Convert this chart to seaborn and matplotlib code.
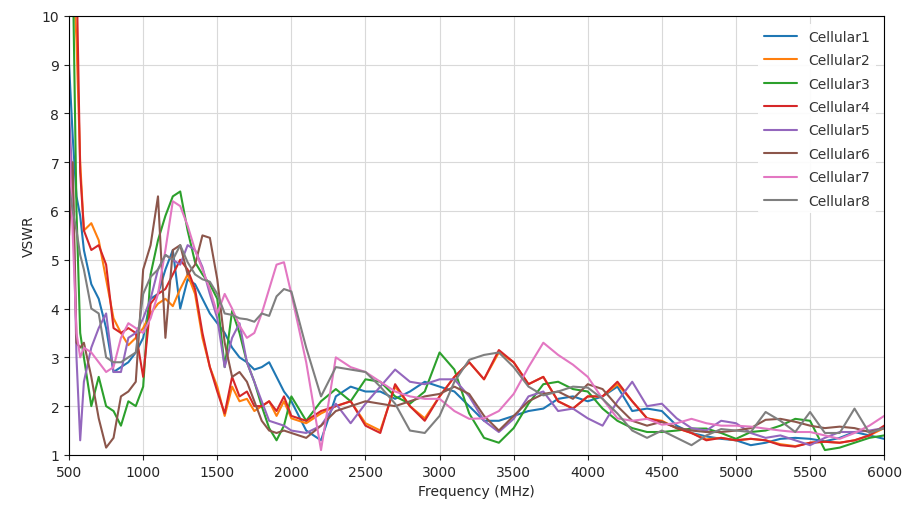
import numpy as np
import pandas as pd
import matplotlib
matplotlib.use("Agg")
import matplotlib.pyplot as plt
import seaborn as sns

freq = [500, 525, 550, 575, 600,
        650, 700, 750, 800, 850, 900, 950, 1000, 1050, 1100, 1150, 1200, 1250, 1300,
        1350, 1400, 1450, 1500, 1550, 1600, 1650, 1700, 1750, 1800, 1850, 1900, 1950, 2000,
        2100, 2200, 2300, 2400, 2500, 2600, 2700, 2800, 2900, 3000,
        3100, 3200, 3300, 3400, 3500, 3600, 3700, 3800, 3900, 4000,
        4100, 4200, 4300, 4400, 4500, 4600, 4700, 4800, 4900, 5000,
        5100, 5200, 5300, 5400, 5500, 5600, 5700, 5800, 5900, 6000]

cellular1 = [9.0, 7.5, 6.3, 5.9, 5.2,
             4.5, 4.2, 3.6, 2.7, 2.8, 2.9, 3.1, 3.4, 4.2, 4.3, 4.8, 5.2, 4.0, 4.6,
             4.5, 4.2, 3.9, 3.7, 3.5, 3.2, 3.0, 2.9, 2.75, 2.8, 2.9, 2.6, 2.3, 2.1,
             1.5, 1.3, 2.2, 2.4, 2.3, 2.3, 2.15, 2.3, 2.5, 2.4,
             2.3, 2.0, 1.7, 1.7, 1.8, 1.9, 1.95, 2.15, 2.2, 2.1,
             2.2, 2.4, 1.9, 1.95, 1.9, 1.6, 1.45, 1.38, 1.33, 1.3,
             1.2, 1.25, 1.33, 1.35, 1.33, 1.28, 1.35, 1.47, 1.4, 1.33]

cellular2 = [12.0, 11.0, 9.5, 7.0, 5.6,
             5.75, 5.4, 4.6, 3.8, 3.5, 3.25, 3.4, 3.6, 3.9, 4.1, 4.2, 4.05, 4.4, 4.7,
             4.3, 3.4, 2.8, 2.4, 1.8, 2.4, 2.1, 2.15, 1.9, 2.0, 2.1, 1.8, 2.1, 1.75,
             1.65, 1.85, 2.0, 2.1, 1.65, 1.5, 2.4, 2.0, 1.75, 2.2,
             2.6, 2.9, 2.55, 3.1, 2.9, 2.45, 2.6, 2.1, 1.95, 2.2,
             2.2, 2.45, 2.1, 1.75, 1.7, 1.55, 1.45, 1.32, 1.35, 1.3,
             1.33, 1.3, 1.22, 1.18, 1.25, 1.27, 1.25, 1.3, 1.4, 1.55]

cellular3 = [12.0, 11.0, 6.0, 3.5, 3.0,
             2.0, 2.6, 2.0, 1.9, 1.6, 2.1, 2.0, 2.4, 4.7, 5.4, 5.9, 6.3, 6.4, 5.6,
             4.95, 4.7, 4.5, 4.2, 2.8, 3.95, 3.5, 2.9, 2.5, 2.0, 1.55, 1.3, 1.6, 2.2,
             1.7, 2.1, 2.35, 2.1, 2.55, 2.5, 2.2, 2.05, 2.3, 3.1,
             2.75, 1.85, 1.35, 1.25, 1.55, 2.05, 2.45, 2.5, 2.35, 2.3,
             1.95, 1.7, 1.55, 1.47, 1.47, 1.5, 1.54, 1.54, 1.45, 1.33,
             1.47, 1.5, 1.6, 1.74, 1.7, 1.1, 1.15, 1.25, 1.35, 1.4]

cellular4 = [12.0, 12.0, 11.0, 6.8, 5.6,
             5.2, 5.3, 4.9, 3.6, 3.5, 3.6, 3.5, 2.6, 4.1, 4.3, 4.4, 4.7, 5.0, 4.8,
             4.4, 3.5, 2.8, 2.3, 1.85, 2.6, 2.2, 2.3, 2.0, 2.0, 2.1, 1.9, 2.2, 1.8,
             1.7, 1.9, 2.0, 2.1, 1.6, 1.45, 2.45, 2.0, 1.7, 2.2,
             2.6, 2.9, 2.55, 3.15, 2.9, 2.45, 2.6, 2.1, 1.95, 2.2,
             2.2, 2.5, 2.1, 1.75, 1.68, 1.55, 1.45, 1.3, 1.35, 1.3,
             1.33, 1.3, 1.2, 1.17, 1.25, 1.27, 1.25, 1.3, 1.4, 1.6]

cellular5 = [8.0, 6.5, 3.0, 1.3, 2.5,
             3.2, 3.6, 3.9, 2.7, 2.7, 3.4, 3.5, 3.8, 4.2, 4.8, 5.1, 5.0, 4.9, 5.3,
             5.2, 4.85, 4.3, 3.8, 2.8, 3.4, 3.7, 2.9, 2.5, 2.1, 1.7, 1.65, 1.6, 1.5,
             1.45, 1.6, 2.05, 1.65, 2.05, 2.4, 2.75, 2.5, 2.45, 2.55,
             2.55, 2.2, 1.7, 1.47, 1.74, 2.2, 2.3, 1.9, 1.95, 1.75,
             1.6, 2.1, 2.5, 2.0, 2.05, 1.75, 1.55, 1.5, 1.7, 1.65,
             1.45, 1.35, 1.4, 1.3, 1.2, 1.35, 1.47, 1.47, 1.5, 1.55]

cellular6 = [5.5, 7.0, 3.3, 3.2, 3.3,
             2.6, 1.75, 1.15, 1.35, 2.2, 2.3, 2.5, 4.8, 5.3, 6.3, 3.4, 5.2, 5.3, 4.7,
             4.9, 5.5, 5.45, 4.6, 3.3, 2.6, 2.7, 2.5, 2.1, 1.7, 1.5, 1.45, 1.5, 1.45,
             1.35, 1.6, 1.9, 2.0, 2.1, 2.05, 2.0, 2.1, 2.2, 2.25,
             2.4, 2.25, 1.8, 1.5, 1.8, 2.1, 2.25, 2.3, 2.15, 2.45,
             2.35, 2.0, 1.7, 1.6, 1.68, 1.56, 1.5, 1.47, 1.47, 1.5,
             1.55, 1.72, 1.74, 1.68, 1.6, 1.55, 1.58, 1.55, 1.47, 1.55]

cellular7 = [7.5, 5.5, 3.5, 3.0, 3.2,
             3.1, 2.9, 2.7, 2.8, 3.4, 3.7, 3.6, 3.5, 3.8, 4.3, 5.2, 6.2, 6.1, 5.7,
             5.2, 4.8, 4.4, 3.9, 4.3, 4.0, 3.65, 3.4, 3.5, 3.9, 4.4, 4.9, 4.95, 4.3,
             2.9, 1.1, 3.0, 2.8, 2.7, 2.5, 2.3, 2.2, 2.15, 2.15,
             1.9, 1.74, 1.75, 1.9, 2.25, 2.8, 3.3, 3.05, 2.85, 2.6,
             2.15, 1.75, 1.7, 1.74, 1.62, 1.65, 1.74, 1.65, 1.6, 1.6,
             1.58, 1.54, 1.5, 1.47, 1.47, 1.4, 1.33, 1.45, 1.6, 1.8]

cellular8 = [6.5, 6.0, 5.6, 5.1, 4.8,
             4.0, 3.9, 3.0, 2.9, 2.9, 3.0, 3.1, 4.3, 4.65, 4.8, 5.1, 5.0, 5.3, 4.95,
             4.7, 4.6, 4.55, 4.3, 3.9, 3.87, 3.8, 3.78, 3.73, 3.9, 3.85, 4.25, 4.4, 4.35,
             3.2, 2.2, 2.8, 2.75, 2.7, 2.4, 2.05, 1.5, 1.45, 1.8,
             2.5, 2.95, 3.05, 3.1, 2.8, 2.4, 2.22, 2.3, 2.4, 2.38,
             2.15, 1.85, 1.5, 1.35, 1.5, 1.35, 1.2, 1.4, 1.53, 1.5,
             1.47, 1.88, 1.7, 1.47, 1.88, 1.45, 1.45, 1.95, 1.45, 1.55]

series_names = ["Cellular1", "Cellular2", "Cellular3", "Cellular4",
                "Cellular5", "Cellular6", "Cellular7", "Cellular8"]
series_values = [cellular1, cellular2, cellular3, cellular4,
                 cellular5, cellular6, cellular7, cellular8]

frames = []
for name, vals in zip(series_names, series_values):
    frames.append(pd.DataFrame({"Frequency (MHz)": freq, "VSWR": vals, "series": name}))
df = pd.concat(frames, ignore_index=True)

sns.set_style("ticks")
plt.rcParams["font.family"] = ["DejaVu Sans"]

fig, ax = plt.subplots(figsize=(9.21, 5.10), dpi=100)
fig.subplots_adjust(left=0.075, right=0.96, top=0.967, bottom=0.106)

sns.lineplot(data=df, x="Frequency (MHz)", y="VSWR", hue="series",
             palette="tab10", linewidth=1.5, ax=ax, sort=False, estimator=None)

ax.set_xlim(500, 6000)
ax.set_ylim(1, 10)
ax.set_xticks(np.arange(500, 6001, 500))
ax.set_yticks(np.arange(1, 11, 1))
ax.grid(True, color="#d9d9d9", linewidth=0.8)
ax.tick_params(labelsize=10)
ax.set_xlabel("Frequency (MHz)", fontsize=10)
ax.set_ylabel("VSWR", fontsize=10)
for s in ax.spines.values():
    s.set_visible(True)
    s.set_color("black")
    s.set_linewidth(0.8)

leg = ax.legend(loc="upper right", fontsize=10, title=None, frameon=True,
                labelspacing=0.68, handlelength=2.4, borderaxespad=0.6)
leg.get_frame().set_edgecolor("none")
leg.get_frame().set_facecolor("white")
leg.get_frame().set_alpha(0.9)
for t in leg.get_texts():
    t.set_color("#333333")

fig.savefig("out.png", dpi=100)
